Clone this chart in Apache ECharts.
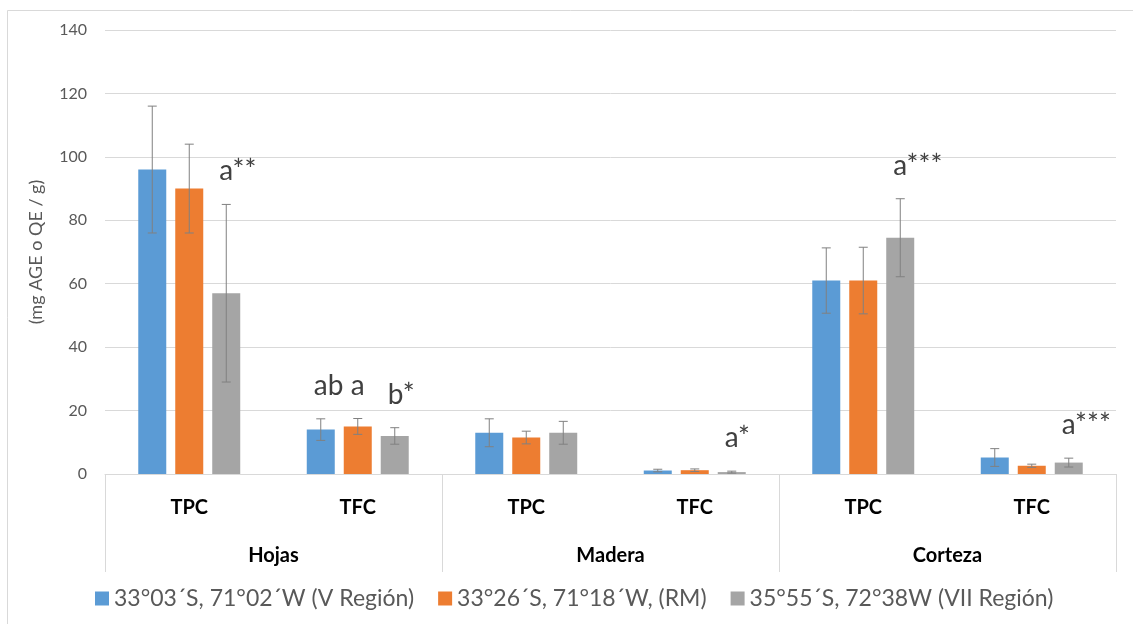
<!DOCTYPE html>
<html>
<head>
<meta charset="utf-8">
<script src="https://cdn.jsdelivr.net/npm/echarts@6/dist/echarts.min.js"></script>
<style>
  html, body { margin: 0; padding: 0; background: #ffffff; }
  #chart { width: 1133px; height: 624px; }
</style>
</head>
<body>
<div id="chart"></div>
<script>
// Categories: assay type inside each plant tissue
const categories = ['TPC', 'TFC', 'TPC', 'TFC', 'TPC', 'TFC'];
const groups = ['Hojas', 'Madera', 'Corteza'];
const yTicks = { min: 0, max: 140, interval: 20 };

// Sampling sites
const seriesNames = [
  '33°03´S, 71°02´W (V Región)',
  '33°26´S, 71°18´W, (RM)',
  '35°55´S, 72°38W (VII Región)'
];

// Mean values (mg AGE o QE / g)
const valuesV = [96, 14, 13, 1.1, 61, 5.2];
const valuesRM = [90, 15, 11.5, 1.2, 61, 2.6];
const valuesVII = [57, 12, 13, 0.6, 74.5, 3.6];

// Standard deviations
const errorsV = [20, 3.4, 4.4, 0.4, 10.3, 2.8];
const errorsRM = [14, 2.5, 2, 0.4, 10.5, 0.5];
const errorsVII = [28, 2.6, 3.6, 0.3, 12.3, 1.4];

// Significance letters
const lettersV = ['', 'ab', '', '', '', ''];
const lettersRM = ['', 'a', '', '', '', ''];
const lettersVII = ['a**', 'b*', '', 'a*', 'a***', 'a***'];

const colors = ['#5b9bd5', '#ed7d31', '#a5a5a5'];
const FONT = 'Lato, "Open Sans", sans-serif';
const BAR_W = 28;
const BAR_GAP = 9;

const values = [valuesV, valuesRM, valuesVII];
const errors = [errorsV, errorsRM, errorsVII];
const letters = [lettersV, lettersRM, lettersVII];

const barSeries = values.map((vals, s) => ({
  name: seriesNames[s],
  type: 'bar',
  xAxisIndex: 0,
  data: vals,
  barWidth: BAR_W,
  barGap: (BAR_GAP / BAR_W * 100).toFixed(1) + '%',
  itemStyle: { color: colors[s] },
  z: 2
}));

// Error bars with caps, plus the significance letter above each whisker
const errorSeries = values.map((vals, s) => ({
  type: 'custom',
  xAxisIndex: 0,
  z: 5,
  silent: true,
  data: vals.map((v, i) => [i, v, errors[s][i]]),
  renderItem: function (params, api) {
    const i = api.value(0);
    const v = api.value(1);
    const e = api.value(2);
    const label = letters[s][i];
    const shift = (s - 1) * (BAR_W + BAR_GAP);
    const top = api.coord([i, v + e]);
    const bot = api.coord([i, Math.max(v - e, 0)]);
    const x = top[0] + shift;
    const cap = 4.5;
    const style = { stroke: '#808080', lineWidth: 1 };
    const children = [
      { type: 'line', shape: { x1: x, y1: top[1], x2: x, y2: bot[1] }, style: style },
      { type: 'line', shape: { x1: x - cap, y1: top[1], x2: x + cap, y2: top[1] }, style: style },
      { type: 'line', shape: { x1: x - cap, y1: bot[1], x2: x + cap, y2: bot[1] }, style: style }
    ];
    if (label) {
      children.push({
        type: 'text',
        style: {
          text: label,
          x: x - 7,
          y: top[1] - 19,
          textAlign: 'left',
          textVerticalAlign: 'bottom',
          font: '28px ' + FONT,
          fill: '#404040'
        }
      });
    }
    return { type: 'group', children: children };
  }
}));

const chart = echarts.init(document.getElementById('chart'), null, { renderer: 'canvas' });

chart.setOption({
  backgroundColor: '#ffffff',
  animation: false,
  textStyle: { fontFamily: FONT },
  graphic: [{
    type: 'rect',
    shape: { x: 7.5, y: 10.5, width: 1140, height: 640 },
    style: { fill: 'none', stroke: '#d9d9d9', lineWidth: 1 },
    silent: true,
    z: -1
  }],
  grid: { left: 105, right: 17, top: 30, bottom: 150 },
  legend: {
    data: seriesNames,
    left: 90,
    top: 582,
    icon: 'rect',
    itemWidth: 14,
    itemHeight: 14,
    itemGap: 24,
    textStyle: { fontFamily: FONT, fontSize: 23, color: '#595959' }
  },
  xAxis: [
    {
      type: 'category',
      data: categories,
      position: 'bottom',
      axisLine: { show: true, lineStyle: { color: '#d9d9d9', width: 1 } },
      axisTick: { show: false },
      axisLabel: { margin: 24, fontFamily: FONT, fontSize: 20, fontWeight: 'bold', color: '#000000' },
      splitLine: { show: false }
    },
    {
      type: 'category',
      data: groups,
      position: 'bottom',
      axisLine: { show: false },
      axisTick: { show: true, length: 98, lineStyle: { color: '#d9d9d9', width: 1 } },
      axisLabel: { margin: 72, fontFamily: FONT, fontSize: 20, fontWeight: 'bold', color: '#000000' },
      splitLine: { show: false }
    }
  ],
  yAxis: {
    type: 'value',
    min: yTicks.min,
    max: yTicks.max,
    interval: yTicks.interval,
    name: '(mg AGE o QE / g)',
    nameLocation: 'middle',
    nameGap: 60,
    nameTextStyle: { fontFamily: FONT, fontSize: 18, color: '#595959' },
    axisLine: { show: false },
    axisTick: { show: false },
    axisLabel: { margin: 18, fontFamily: FONT, fontSize: 16, color: '#595959' },
    splitLine: { lineStyle: { color: '#d9d9d9', width: 1 } }
  },
  series: barSeries.concat(errorSeries)
});
</script>
</body>
</html>
